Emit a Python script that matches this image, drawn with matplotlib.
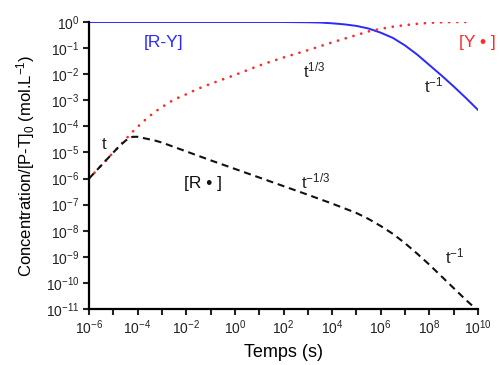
import numpy as np
import matplotlib
matplotlib.use("Agg")
import matplotlib.pyplot as plt

# --- data (log10 values) --- #

ry_logt = [-6, 2, 3, 3.5, 4, 4.5, 5, 5.5, 6, 6.5, 7, 7.5, 8, 8.5, 9, 9.5, 10]
ry_logc = [0, 0, -0.01, -0.02, -0.05, -0.09, -0.15, -0.25, -0.41, -0.61, -0.9, -1.25,
           -1.65, -2.05, -2.47, -2.91, -3.37]

y_logt = [-6, -5.5, -5, -4.5, -4.2, -4, -3.75, -3.5, -3.25, -3, -2.5, -2, -1.5, -1,
          -0.5, 0, 0.5, 1, 1.5, 2, 2.5, 3, 3.5, 4, 4.5, 5, 5.5, 6, 6.5, 7, 7.5, 8,
          8.5, 9, 9.8]
y_logc = [-6, -5.5, -5, -4.5, -4.2, -4.02, -3.8, -3.6, -3.42, -3.26, -2.97, -2.77,
          -2.55, -2.37, -2.2, -2.03, -1.85, -1.67, -1.51, -1.36, -1.22, -1.08, -0.93,
          -0.78, -0.64, -0.5, -0.36, -0.26, -0.18, -0.12, -0.07, -0.03, -0.01, 0, 0]

r_logt = [-6, -5.5, -5, -4.75, -4.5, -4.35, -4.2, -4.0, -3.7, -3.3, -3, -2, -1, 0,
          1, 2, 3, 4, 5, 5.5, 6, 6.5, 7, 7.5, 8, 8.5, 9, 9.5, 9.8]
r_logc = [-6, -5.5, -5, -4.76, -4.55, -4.45, -4.4, -4.4, -4.46, -4.54, -4.62, -4.96,
          -5.3, -5.63, -5.96, -6.29, -6.62, -6.96, -7.32, -7.55, -7.82, -8.12, -8.48,
          -8.88, -9.3, -9.75, -10.2, -10.65, -10.9]

x_decades = list(range(-6, 11))
y_decades = list(range(-11, 1))

blue = "#2a2aff"
red = "#ff2a2a"

plt.rcParams["font.family"] = ["Liberation Sans", "DejaVu Sans"]
plt.rcParams["mathtext.fontset"] = "custom"
plt.rcParams["mathtext.rm"] = "Liberation Sans"
plt.rcParams["mathtext.it"] = "Liberation Sans"
plt.rcParams["mathtext.bf"] = "Liberation Sans:bold"

fig = plt.figure(figsize=(5, 3.65), dpi=100)
ax = fig.add_axes([0.178, 0.1534, 0.778, 0.7863])

ax.plot(10.0 ** np.array(ry_logt), 10.0 ** np.array(ry_logc),
        "-", color=blue, lw=1.4)
ax.plot(10.0 ** np.array(y_logt), 10.0 ** np.array(y_logc),
        color=red, lw=2.0, linestyle=(0, (0.01, 2.9)),
        dash_capstyle="round")
ax.plot(10.0 ** np.array(r_logt), 10.0 ** np.array(r_logc),
        color="#111111", lw=1.5, linestyle=(0, (3.4, 2.3)))

ax.set_xscale("log")
ax.set_yscale("log")
ax.set_xlim(1e-6, 1e10)
ax.set_ylim(1e-11, 1e0)

ax.set_xticks([10.0 ** d for d in x_decades])
ax.set_xticklabels([r"$10^{%d}$" % d if d % 2 == 0 else "" for d in x_decades])
ax.set_yticks([10.0 ** d for d in y_decades])
ax.set_yticklabels([r"$10^{%d}$" % d for d in y_decades])
ax.minorticks_off()

ax.spines["top"].set_visible(False)
ax.spines["right"].set_visible(False)
ax.spines["left"].set_linewidth(1.6)
ax.spines["bottom"].set_linewidth(1.6)
ax.tick_params(direction="out", length=4, width=1.5, labelsize=10,
               colors="#222222", pad=3)

ax.set_xlabel("Temps (s)", fontsize=13, labelpad=5)
ax.set_ylabel(r"Concentration/[P-T]$_0$ (mol.L$^{-1}$)", fontsize=12, labelpad=6)

# annotations
ax.text(10 ** -2.95, 10 ** -0.77, "[R-Y]", color=blue, fontsize=12.5,
        ha="center", va="center")
ax.text(10 ** 9.97, 10 ** -0.77, "[Y • ]", color=red, fontsize=12.5,
        ha="center", va="center", clip_on=False)
ax.text(10 ** -1.31, 10 ** -6.2, "[R • ]", color="#111111", fontsize=12.5,
        ha="center", va="center")
ax.text(10 ** -5.38, 10 ** -4.71, "t", fontsize=12, color="#222222",
        ha="center", va="center")
ax.text(10 ** 3.26, 10 ** -1.84, "t$^{1/3}$", fontsize=12, color="#222222",
        ha="center", va="center")
ax.text(10 ** 8.16, 10 ** -2.45, "t$^{-1}$", fontsize=12, color="#222222",
        ha="center", va="center")
ax.text(10 ** 3.3, 10 ** -6.1, "t$^{-1/3}$", fontsize=12, color="#222222",
        ha="center", va="center")
ax.text(10 ** 9.06, 10 ** -9.0, "t$^{-1}$", fontsize=12, color="#222222",
        ha="center", va="center")

fig.savefig("out.png", dpi=100)
